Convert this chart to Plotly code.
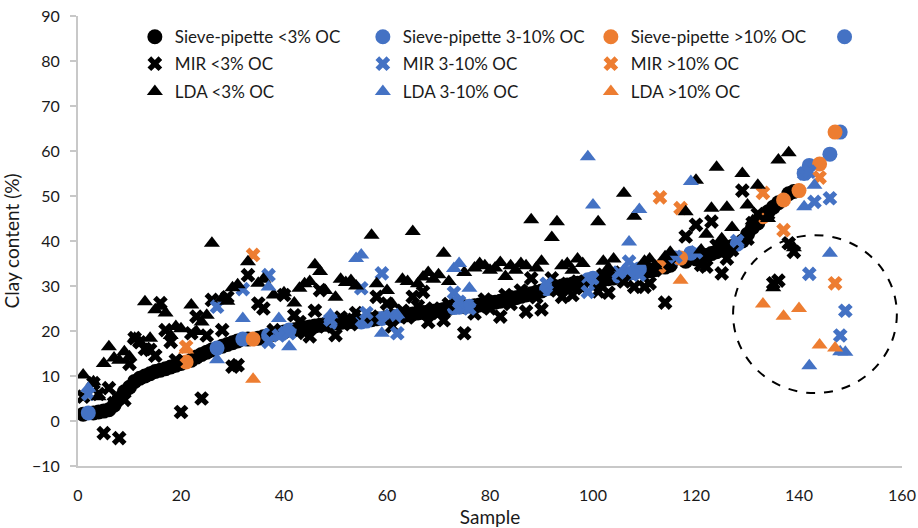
import plotly.graph_objects as go

# ---- colours / fonts ----
BLACK = "#000000"
BLUE = "#4472C4"
ORANGE = "#ED7D31"
TEXT = "#1A1A1A"
AXIS = "#C8C8C8"
FONT = "Lato"

# ---- samples with <3% organic carbon (sample index, clay % by method) ----
low_x = [1, 3, 4, 5, 6, 7, 8, 9, 10, 11, 12, 13, 14, 15, 16, 17, 18, 19, 20,
         22, 23, 24, 25, 26, 28, 29, 30, 31, 33, 35, 36, 38, 40,
         42, 43, 44, 45, 46, 47, 48, 50, 51, 52, 53, 54, 57, 58, 60, 61,
         63, 64, 65, 66, 67, 68, 69, 70, 71, 72, 75,
         77, 78, 79, 80, 81, 82, 83, 84, 85, 86, 87, 88, 89, 90,
         92, 93, 94, 95, 96, 97, 98, 101, 102, 103, 104, 106, 108,
         110, 111, 112, 114, 115, 118, 120, 121, 122, 123, 124, 125, 126, 127,
         129, 130, 131, 132, 134, 135, 136, 138, 139]
sieve_low = [1.5, 1.8, 2.0, 2.2, 2.5, 3.5, 5.0, 6.5, 7.5, 8.8, 9.5, 10.0, 10.5, 11.0, 11.3, 11.6, 12.0, 12.4, 12.8,
             13.5, 14.2, 14.8, 15.3, 15.8, 16.6, 17.0, 17.4, 17.8, 18.2, 18.4, 18.7, 19.3, 19.8,
             20.3, 20.5, 20.7, 20.9, 21.1, 21.3, 21.5, 21.8, 21.9, 22.0, 22.1, 22.2, 22.5, 22.7, 23.0, 23.2,
             23.4, 23.6, 23.8, 24.0, 24.1, 24.2, 24.4, 24.6, 24.8, 25.0, 25.4,
             25.6, 25.8, 26.0, 26.2, 26.4, 26.6, 26.9, 27.1, 27.4, 27.7, 28.0, 28.3, 28.6, 28.9,
             29.5, 29.8, 30.0, 30.2, 30.4, 30.6, 30.8, 31.2, 31.4, 31.6, 31.8, 32.4, 33.0,
             33.2, 33.4, 33.6, 34.2, 34.6, 35.5, 36.0, 36.4, 36.8, 37.2, 37.6, 38.0, 38.4, 38.8,
             40.0, 41.5, 43.0, 44.0, 46.5, 47.5, 48.5, 50.5, 51.0]
mir_low = [5.4, 8.4, 6.0, -2.7, 7.3, 4.0, -3.8, 4.7, 12.7, 18.4, 17.5, 16.0, 15.8, 14.5, 26.2, 20.2, 17.6, 13.5, 2.0,
           19.5, 23.2, 5.0, 19.0, 26.9, 20.2, 27.5, 12.1, 12.4, 32.4, 26.1, 25.0, 20.2, 28.0,
           23.5, 22.0, 19.6, 18.8, 24.5, 29.1, 21.0, 19.1, 23.0, 22.5, 21.5, 24.0, 23.2, 27.6, 26.1, 21.0,
           24.5, 23.0, 27.6, 25.5, 28.7, 22.0, 25.0, 24.0, 22.4, 26.0, 19.5,
           23.9, 25.5, 27.0, 25.0, 26.5, 23.2, 28.0, 26.0, 27.5, 29.0, 24.3, 31.7, 27.5, 24.8,
           31.7, 29.0, 27.6, 30.5, 28.0, 31.0, 29.5, 28.8, 32.5, 28.5, 33.0, 31.0, 29.8,
           29.8, 30.6, 33.5, 26.3, 35.0, 41.0, 43.6, 34.7, 34.3, 44.3, 39.0, 32.8, 36.1, 38.0,
           51.2, 40.5, 44.0, 46.0, 46.0, 30.6, 31.2, 39.5, 37.6]
lda_low = [10.2, 8.7, 5.4, 12.8, 16.5, 14.0, 13.5, 15.4, 14.3, 18.4, 17.5, 26.5, 18.4, 24.7, 25.5, 24.0, 19.0, 21.0, 20.5,
           25.8, 19.9, 22.0, 23.5, 39.5, 27.3, 26.6, 29.6, 30.3, 35.4, 30.6, 31.5, 28.0, 28.5,
           26.2, 29.5, 30.5, 31.0, 34.7, 33.2, 29.0, 27.5, 31.5, 30.8, 31.2, 30.0, 41.3, 30.5, 29.0, 26.0,
           31.5, 31.0, 42.1, 30.5, 32.0, 33.0, 31.5, 32.5, 37.3, 31.0, 33.0,
           34.0, 35.0, 34.5, 33.5, 34.0, 35.2, 32.1, 34.5, 33.5, 35.0, 34.5, 44.7, 34.0, 35.5,
           40.8, 44.3, 34.5, 35.0, 33.5, 36.0, 35.0, 44.3, 35.5, 34.0, 36.0, 50.6, 45.5,
           35.5, 36.0, 34.5, 36.5, 37.5, 46.5, 53.5, 38.0, 41.5, 47.3, 56.4, 40.5, 47.5, 43.0,
           55.0, 48.0, 44.5, 52.4, 45.0, 29.6, 58.0, 59.6, 38.5]

# ---- samples with 3-10% organic carbon ----
sieve_mid_x = [2, 27, 32, 37, 39, 41, 49, 55, 56, 59, 62, 73, 74, 76, 91, 99, 100, 105, 107, 109,
               116, 119, 128, 141, 142, 146, 148]
sieve_mid_y = [1.8, 16.2, 18.2, 19.1, 19.6, 20.2, 21.7, 22.0, 22.2, 22.8, 23.3, 25.2, 25.3, 25.5, 29.4,
               31.4, 31.7, 32.2, 32.8, 33.8, 36.2, 37.3, 39.3, 55.0, 56.8, 59.3, 64.2]
mir_mid_x = [2, 27, 32, 37, 37, 39, 41, 49, 55, 56, 59, 62, 73, 74, 76, 91, 99, 105, 107, 109,
             116, 120, 128, 141, 142, 142, 143, 146, 148, 149]
mir_mid_y = [6.0, 25.4, 29.3, 32.4, 17.6, 19.0, 19.5, 22.5, 29.5, 24.0, 32.8, 19.5, 28.5, 26.5, 25.0,
             30.5, 28.7, 33.0, 35.4, 32.5, 36.5, 37.5, 40.0, 55.0, 55.4, 32.7, 48.7, 49.5, 19.0, 24.5]
lda_mid_x = [2, 27, 32, 37, 39, 41, 49, 54, 55, 59, 60, 62, 73, 74, 76, 99, 100, 107, 109, 119,
             141, 142, 143, 146, 148, 149]
lda_mid_y = [7.3, 13.6, 22.8, 29.8, 22.8, 16.5, 23.6, 36.1, 36.9, 19.5, 23.6, 23.6, 33.9, 35.0, 29.5,
             58.7, 48.0, 39.8, 47.0, 53.2, 47.6, 12.3, 52.4, 37.3, 15.4, 15.3]

# ---- samples with >10% organic carbon ----
sieve_high_x = [21, 34, 113, 117, 133, 137, 140, 144, 147]
sieve_high_y = [13.1, 18.2, 34.3, 36.2, 45.4, 49.1, 51.2, 57.1, 64.2]
mir_high_x = [21, 34, 113, 117, 133, 137, 144, 147]
mir_high_y = [16.5, 36.9, 49.7, 47.3, 50.7, 42.4, 54.1, 30.6]
lda_high_x = [21, 34, 117, 133, 137, 140, 144, 147]
lda_high_y = [15.8, 9.3, 31.3, 26.0, 23.3, 25.0, 16.9, 16.2]

# region of high-OC outliers highlighted by a dashed ellipse
outlier_box = dict(x0=127.2, x1=159.0, y0=6.2, y1=41.3)

fig = go.Figure()


def add(x, y, name, color, symbol, size, legend):
    fig.add_trace(go.Scatter(
        x=x, y=y, mode="markers", name=name, legend=legend,
        marker=dict(color=color, symbol=symbol, size=size, line=dict(width=0)),
        hoverinfo="x+y+name",
    ))


CIRCLE, CROSS, TRI = ("circle", 15), ("x", 13), ("triangle-up", 14)

add(low_x, sieve_low, "Sieve-pipette <3% OC", BLACK, *CIRCLE, "legend")
add(sieve_mid_x, sieve_mid_y, "Sieve-pipette 3-10% OC", BLUE, *CIRCLE, "legend")
add(sieve_high_x, sieve_high_y, "Sieve-pipette >10% OC", ORANGE, *CIRCLE, "legend")
add([None], [None], " ", BLUE, *CIRCLE, "legend4")
add(low_x, mir_low, "MIR <3% OC", BLACK, *CROSS, "legend2")
add(mir_mid_x, mir_mid_y, "MIR 3-10% OC", BLUE, *CROSS, "legend2")
add(mir_high_x, mir_high_y, "MIR >10% OC", ORANGE, *CROSS, "legend2")
add(low_x, lda_low, "LDA <3% OC", BLACK, *TRI, "legend3")
add(lda_mid_x, lda_mid_y, "LDA 3-10% OC", BLUE, *TRI, "legend3")
add(lda_high_x, lda_high_y, "LDA >10% OC", ORANGE, *TRI, "legend3")

fig.add_shape(type="circle", xref="x", yref="y", **outlier_box,
              line=dict(color=BLACK, width=2, dash="dash"))

legend_common = dict(orientation="h", xref="paper", yref="paper",
                     xanchor="left", yanchor="middle",
                     entrywidth=183, bgcolor="rgba(0,0,0,0)", borderwidth=0,
                     font=dict(family=FONT, size=17, color=TEXT), itemsizing="trace")

fig.update_layout(
    width=918, height=528,
    margin=dict(l=78, r=16, t=16, b=62, autoexpand=False),
    paper_bgcolor="white", plot_bgcolor="white",
    font=dict(family=FONT, size=16, color=TEXT),
    showlegend=True,
    legend=dict(**legend_common, x=0.069, y=0.953),
    legend2=dict(**legend_common, x=0.069, y=0.893),
    legend3=dict(**legend_common, x=0.069, y=0.831),
    legend4=dict(**legend_common, x=0.906, y=0.953),
    xaxis=dict(range=[0, 160], dtick=20, showgrid=False, zeroline=False,
               showline=True, linecolor=AXIS, linewidth=2, ticks="",
               ticklabelstandoff=14,
               tickfont=dict(family=FONT, size=16, color=TEXT),
               title=dict(text="Sample", font=dict(family=FONT, size=19, color=TEXT), standoff=9),
               automargin=False),
    yaxis=dict(range=[-10, 90], dtick=10, showgrid=False, zeroline=False,
               showline=True, linecolor=AXIS, linewidth=2,
               ticks="outside", ticklen=6, tickcolor=AXIS, tickwidth=2,
               ticklabelstandoff=7,
               tickfont=dict(family=FONT, size=16, color=TEXT),
               title=dict(text="Clay content (%)", font=dict(family=FONT, size=19, color=TEXT), standoff=8),
               automargin=False),
)

fig.write_html("out.html")
